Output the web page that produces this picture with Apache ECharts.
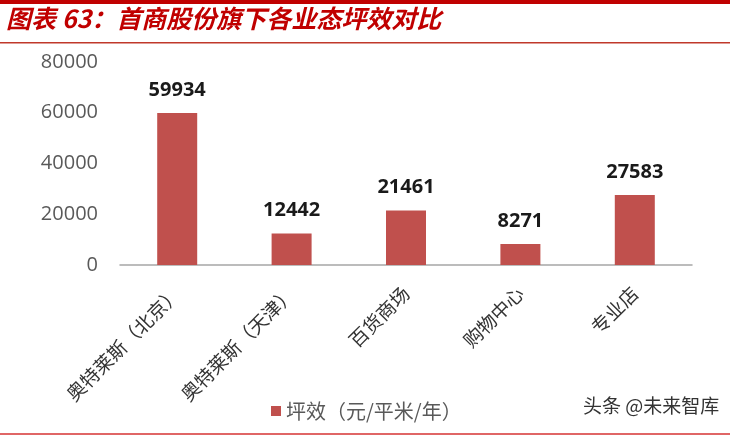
<!DOCTYPE html>
<html><head><meta charset="utf-8">
<script src="https://cdn.jsdelivr.net/npm/echarts@6/dist/echarts.min.js"></script>
<style>html,body{margin:0;padding:0;background:#fff}#c{width:730px;height:436px}</style>
</head><body><div id="c"></div>
<script>
const categories = ['奥特莱斯（北京）', '奥特莱斯（天津）', '百货商场', '购物中心', '专业店'];
const values = [59934, 12442, 21461, 8271, 27583];
const yTicks = [0, 20000, 40000, 60000, 80000];
const seriesName = '坪效（元/平米/年）';
const titleText = '图表 63：首商股份旗下各业态坪效对比';
const watermark = '头条 @未来智库';

const chart = echarts.init(document.getElementById('c'), null, {renderer: 'canvas'});
chart.setOption({
  animation: false,
  backgroundColor: '#fff',
  textStyle: {fontFamily: '"Noto Sans CJK SC", "Open Sans", sans-serif'},
  graphic: [
    {type: 'rect', shape: {x: 0, y: 0, width: 730, height: 4}, style: {fill: '#c00000'}},
    {type: 'rect', shape: {x: 0, y: 42, width: 730, height: 1.5}, style: {fill: '#c0392b'}},
    {type: 'rect', shape: {x: 0, y: 433, width: 730, height: 2}, style: {fill: '#e06666'}},
    {type: 'text', left: 6, top: 6, style: {text: titleText, fill: '#c00000', font: 'italic bold 25px "Noto Sans CJK SC", sans-serif'}},
    {type: 'text', left: 583, top: 396, style: {text: watermark, fill: '#333', font: '19px "Noto Sans CJK SC", sans-serif'}}
  ],
  legend: {
    data: [seriesName], left: 266, top: 396, itemWidth: 10, itemHeight: 10, icon: 'rect', itemGap: 8,
    textStyle: {fontSize: 20, color: '#595959', fontFamily: '"Noto Sans CJK SC", sans-serif'}
  },
  grid: {left: 120, right: 38, top: 62, bottom: 171, containLabel: false},
  xAxis: {
    type: 'category', data: categories,
    axisLine: {lineStyle: {color: '#a6a6a6', width: 1.5}},
    axisTick: {show: false},
    axisLabel: {rotate: 45, interval: 0, fontSize: 19, color: '#333', margin: 25, fontFamily: '"Noto Sans CJK SC", sans-serif'}
  },
  yAxis: {
    type: 'value', min: yTicks[0], max: yTicks[yTicks.length - 1], interval: 20000,
    splitLine: {show: false}, axisLine: {show: false}, axisTick: {show: false},
    axisLabel: {fontSize: 20, color: '#595959', margin: 22, formatter: v => String(v), fontFamily: '"Open Sans", sans-serif'}
  },
  series: [{
    name: seriesName, type: 'bar', data: values, barWidth: 40,
    itemStyle: {color: '#c0504d'},
    label: {show: true, position: 'top', distance: 13, fontSize: 20, fontWeight: 'bold', color: '#1a1a1a', fontFamily: '"Open Sans", sans-serif'}
  }]
});
</script></body></html>
